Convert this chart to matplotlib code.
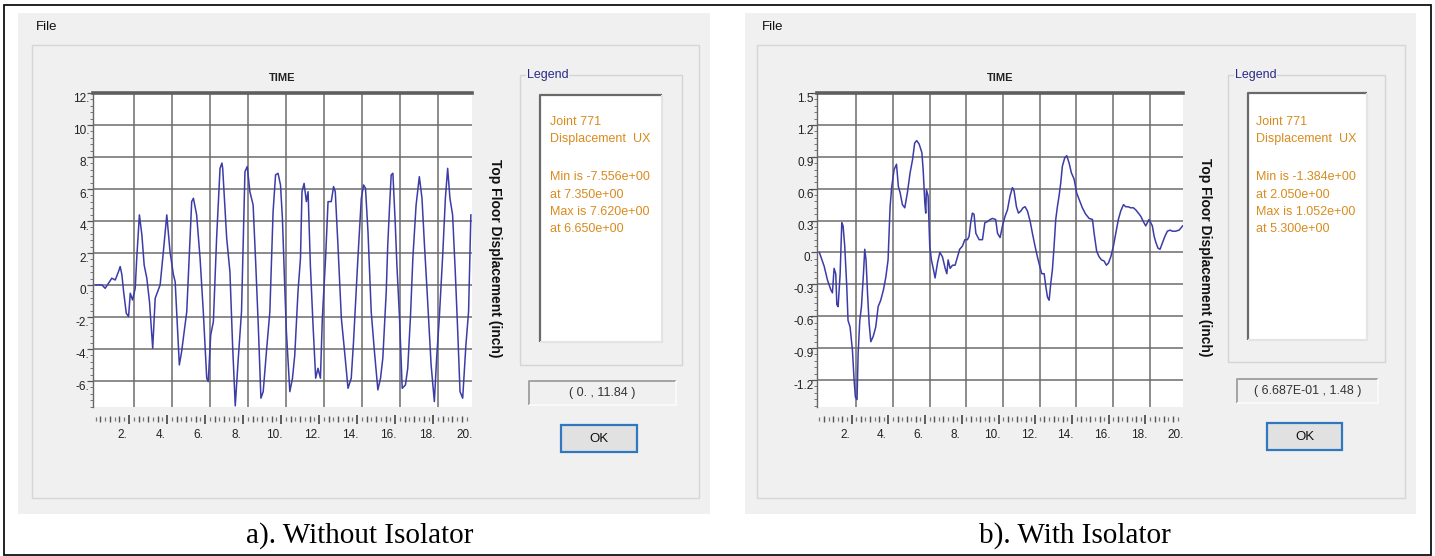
import matplotlib
matplotlib.use("Agg")
import matplotlib.pyplot as plt
from matplotlib.patches import Rectangle
from matplotlib.ticker import MultipleLocator
from matplotlib.transforms import blended_transform_factory, ScaledTranslation

# ---------------- data: top floor displacement time histories ----------------
t_without = [0.00, 0.34, 0.51, 0.86, 1.04, 1.21, 1.30, 1.39, 1.48, 1.62, 1.74, 1.83,
             1.95, 2.09, 2.17, 2.31, 2.44, 2.56, 2.70, 2.84, 3.01, 3.14, 3.40, 3.57,
             3.75, 3.92, 4.10, 4.19, 4.41, 4.53, 4.80, 5.06, 5.15, 5.32, 5.50, 5.67,
             5.85, 5.93, 6.06, 6.20, 6.37, 6.55, 6.65, 6.69, 6.90, 7.07, 7.21, 7.35,
             7.51, 7.68, 7.86, 7.98, 8.12, 8.29, 8.43, 8.56, 8.70, 8.82, 8.99, 9.17,
             9.34, 9.47, 9.60, 9.73, 9.83, 9.95, 10.04, 10.22, 10.36, 10.48, 10.65,
             10.78, 10.86, 10.97, 11.09, 11.18, 11.30, 11.44, 11.58, 11.70, 11.83,
             11.93, 12.10, 12.23, 12.40, 12.52, 12.61, 12.75, 12.93, 13.10, 13.28,
             13.45, 13.57, 13.80, 13.98, 14.10, 14.20, 14.33, 14.50, 14.67, 14.85,
             14.99, 15.11, 15.29, 15.37, 15.46, 15.55, 15.64, 15.76, 15.85, 15.99,
             16.13, 16.30, 16.42, 16.56, 16.69, 16.86, 17.03, 17.17, 17.30, 17.44,
             17.65, 17.82, 17.94, 18.08, 18.26, 18.40, 18.52, 18.64, 18.78, 18.92,
             19.05, 19.17, 19.31, 19.48, 19.62, 19.74]
u_without = [0.00, 0.00, -0.21, 0.42, 0.31, 0.83, 1.15, 0.63, -0.42, -1.77, -1.98, -0.52,
             -0.94, -0.21, 1.67, 4.38, 3.13, 1.25, 0.42, -1.04, -3.96, -0.83, 0.00, 2.08,
             4.38, 2.08, 0.63, 0.21, -5.00, -4.17, -1.67, 5.21, 5.42, 4.38, 1.67, -1.67,
             -5.83, -6.04, -3.13, -2.29, 2.92, 7.29, 7.62, 7.29, 2.92, 0.83, -3.75, -7.56,
             -4.58, -1.67, 7.08, 7.40, 5.83, 5.00, 1.25, -2.50, -7.08, -6.67, -4.17, -1.67,
             4.58, 6.88, 6.98, 6.25, 4.17, 0.00, -2.92, -6.67, -5.83, -4.38, -0.42,
             1.67, 5.83, 6.35, 5.21, 5.83, 1.25, -2.50, -5.83, -5.21, -5.83,
             -2.08, 1.67, 5.21, 5.21, 6.15, 5.83, 2.50, -2.08, -4.17, -6.46,
             -5.83, -3.54, 1.67, 5.42, 6.25, 6.04, 3.33, -1.67, -4.17, -6.56,
             -5.83, -4.58, -0.42, 2.50, 4.79, 6.88, 6.98, 3.96, 1.25, -2.08,
             -6.46, -6.25, -5.21, -2.08, 1.67, 5.00, 6.77, 5.42, 2.50, -0.42,
             -5.00, -7.29, -4.58, -2.08, 1.88, 5.42, 7.29, 5.42, 4.38, 0.83,
             -2.92, -6.67, -7.08, -3.75, -1.67, 4.38]

t_with = [0.00, 0.08, 0.26, 0.44, 0.62, 0.71, 0.80, 0.89, 0.95, 1.02, 1.13, 1.22, 1.29,
          1.38, 1.49, 1.56, 1.67, 1.80, 1.89, 1.96, 2.05, 2.11, 2.20, 2.29, 2.40, 2.47,
          2.54, 2.62, 2.71, 2.80, 2.93, 3.07, 3.20, 3.34, 3.49, 3.62, 3.74, 3.85, 3.94,
          4.07, 4.20, 4.30, 4.40, 4.52, 4.65, 4.79, 4.94, 5.07, 5.19, 5.30, 5.43, 5.58,
          5.65, 5.74, 5.79, 5.83, 5.92, 6.01, 6.10, 6.21, 6.30, 6.43, 6.56, 6.70, 6.85,
          6.94, 7.01, 7.12, 7.25, 7.39, 7.52, 7.64, 7.79, 7.92, 8.06, 8.15, 8.24, 8.33,
          8.42, 8.52, 8.61, 8.70, 8.88, 9.01, 9.15, 9.30, 9.42, 9.60, 9.70, 9.84, 9.97,
          10.11, 10.24, 10.38, 10.51, 10.60, 10.73, 10.84, 10.97, 11.09, 11.20, 11.33,
          11.48, 11.60, 11.73, 11.87, 12.00, 12.11, 12.24, 12.33, 12.42, 12.51, 12.60,
          12.69, 12.78, 12.87, 12.96, 13.05, 13.14, 13.23, 13.36, 13.47, 13.60, 13.72,
          13.87, 14.01, 14.14, 14.32, 14.50, 14.69, 14.87, 14.96, 15.10, 15.23, 15.36,
          15.50, 15.63, 15.74, 15.87, 16.01, 16.14, 16.28, 16.41, 16.56, 16.68, 16.81,
          16.95, 17.10, 17.23, 17.37, 17.50, 17.64, 17.77, 17.86, 17.95, 18.04, 18.13,
          18.23, 18.33, 18.44, 18.55, 18.68, 18.81, 18.95, 19.10, 19.22, 19.40, 19.59,
          19.78]
u_with = [0.00, -0.04, -0.13, -0.26, -0.35, -0.38, -0.15, -0.20, -0.49, -0.51, -0.20, 0.28,
          0.25, 0.06, -0.32, -0.64, -0.70, -0.92, -1.20, -1.36, -1.384, -0.95, -0.64,
          -0.51, -0.20, 0.03, -0.07, -0.38, -0.67, -0.84, -0.79, -0.70, -0.51, -0.45,
          -0.35, -0.23, -0.07, 0.43, 0.62, 0.78, 0.83, 0.62, 0.56, 0.45, 0.42, 0.56, 0.75,
          0.87, 1.03, 1.052, 1.02, 0.94, 0.78, 0.47, 0.37, 0.59, 0.53, 0.06, -0.07, -0.16,
          -0.24, -0.10, 0.00, -0.04, -0.15, -0.20, -0.07, -0.15, -0.12, -0.12, -0.04, 0.03,
          0.06, 0.12, 0.12, 0.15, 0.28, 0.37, 0.36, 0.18, 0.15, 0.12, 0.12, 0.28, 0.29,
          0.31, 0.32, 0.31, 0.18, 0.14, 0.25, 0.34, 0.40, 0.53, 0.61, 0.58, 0.43, 0.37,
          0.39, 0.42, 0.43, 0.39, 0.29, 0.18, 0.07, -0.04, -0.13, -0.20, -0.20, -0.32,
          -0.42, -0.45, -0.29, -0.16, 0.06, 0.31, 0.43, 0.53, 0.65, 0.81, 0.89, 0.91, 0.84,
          0.75, 0.69, 0.56, 0.50, 0.42, 0.36, 0.32, 0.31, 0.18, 0.01, -0.04, -0.07, -0.08,
          -0.12, -0.10, -0.04, 0.06, 0.18, 0.31, 0.39, 0.45, 0.43, 0.43, 0.42, 0.42, 0.40,
          0.37, 0.34, 0.29, 0.25, 0.28, 0.31, 0.28, 0.25, 0.15, 0.09, 0.04, 0.03, 0.09,
          0.15, 0.20, 0.21, 0.20, 0.20, 0.21, 0.25]

yticks_without = [-6, -4, -2, 0, 2, 4, 6, 8, 10, 12]
ylabels_without = ["-6.", "-4.", "-2.", "0.", "2.", "4.", "6.", "8.", "10.", "12."]
yticks_with = [-1.2, -0.9, -0.6, -0.3, 0.0, 0.3, 0.6, 0.9, 1.2, 1.5]
ylabels_with = ["-1.2", "-0.9", "-0.6", "-0.3", "0.", "0.3", "0.6", "0.9", "1.2", "1.5"]
time_ticks = [2, 4, 6, 8, 10, 12, 14, 16, 18, 20]
time_labels = ["2.", "4.", "6.", "8.", "10.", "12.", "14.", "16.", "18.", "20."]

legend_without = ["Joint 771", "Displacement  UX", "", "Min is -7.556e+00",
                  "at 7.350e+00", "Max is 7.620e+00", "at 6.650e+00"]
legend_with = ["Joint 771", "Displacement  UX", "", "Min is -1.384e+00",
               "at 2.050e+00", "Max is 1.052e+00", "at 5.300e+00"]
readout_without = "( 0. , 11.84 )"
readout_with = "( 6.687E-01 , 1.48 )"
caption_without = "a). Without Isolator"
caption_with = "b). With Isolator"

# ---------------- styling ----------------
W, H = 1435, 556
UI = "Liberation Sans"
SERIF = "Liberation Serif"
WIN = "#f0f0f0"
CURVE = "#3c3ca8"
GRID = "#6c6c6c"
ORANGE = "#d98b1e"

fig = plt.figure(figsize=(W / 100, H / 100), dpi=100, facecolor="white")
bg = fig.add_axes([0, 0, 1, 1], zorder=0)
bg.set_xlim(0, W)
bg.set_ylim(H, 0)
bg.axis("off")


def rect(x0, y0, x1, y1, fc="none", ec="none", lw=1.0, z=1):
    bg.add_patch(Rectangle((x0, y0), x1 - x0, y1 - y0, facecolor=fc,
                           edgecolor=ec, linewidth=lw, zorder=z))


def sunken(x0, y0, x1, y1, fc, dark, light, lw):
    rect(x0, y0, x1, y1, fc=fc, z=2)
    bg.plot([x0, x0, x1], [y1, y0, y0], color=dark, lw=lw, zorder=3,
            solid_capstyle="butt")
    bg.plot([x0, x1, x1], [y1, y1, y0], color=light, lw=lw, zorder=3,
            solid_capstyle="butt")


def panel(L, t, u, yticks, ylabels, ylim, yminor, legend_lines, readout, caption):
    # window frame
    rect(*L["win"], fc=WIN, z=1)
    rect(*L["group"], ec="#d6d6d6", lw=1.0, z=1.5)
    bg.text(L["file"][0], L["file"][1], "File", family=UI, fontsize=9.5,
            ha="left", va="center", color="#111111")
    # plot
    x0, y0, x1, y1 = L["plot"]
    ax = fig.add_axes([x0 / W, 1 - y1 / H, (x1 - x0) / W, (y1 - y0) / H], zorder=2)
    ax.set_facecolor("white")
    ax.plot(t, u, color=CURVE, lw=1.1, zorder=3, solid_joinstyle="round")
    ax.set_xlim(-0.13, 19.8)
    ax.set_ylim(*ylim)
    ax.set_yticks(yticks)
    ax.set_xticks(time_ticks[:-1])
    ax.yaxis.set_minor_locator(MultipleLocator(yminor))
    ax.grid(True, which="major", color=GRID, lw=1.1)
    ax.tick_params(axis="x", which="both", length=0, labelbottom=False)
    ax.tick_params(axis="y", which="major", length=4, width=0.9, color="#555555",
                   labelleft=False)
    ax.tick_params(axis="y", which="minor", length=2.5, width=0.7, color="#777777")
    for s in ("right", "bottom"):
        ax.spines[s].set_visible(False)
    ax.spines["left"].set_color("#666666")
    ax.spines["left"].set_linewidth(1.0)
    ax.spines["top"].set_color("#5e5e5e")
    ax.spines["top"].set_linewidth(2.6)

    # y tick labels, set slightly below their grid lines
    ylab_tr = blended_transform_factory(ax.transAxes, ax.transData) + \
        ScaledTranslation(-0.035, -0.06, fig.dpi_scale_trans)
    for v, s in zip(yticks, ylabels):
        ax.text(0, v, s, transform=ylab_tr, ha="right", va="center",
                family=UI, fontsize=8.5, color="#222222")

    # time ruler below the plot
    ruler = blended_transform_factory(ax.transData, ax.transAxes) + \
        ScaledTranslation(-0.045, 0, fig.dpi_scale_trans)
    ph = y1 - y0
    k = 1
    while k * 0.25 < 19.8:
        tv = k * 0.25
        if k % 8 == 0:
            ya, yb, c, w = (407 - 415) / ph, (407 - 424) / ph, "#333333", 1.1
        elif k % 2 == 0:
            ya, yb, c, w = (407 - 416) / ph, (407 - 422) / ph, "#555555", 1.0
        else:
            ya, yb, c, w = (407 - 417) / ph, (407 - 421) / ph, "#777777", 0.9
        ax.plot([tv, tv], [ya, yb], transform=ruler, color=c, lw=w,
                clip_on=False, solid_capstyle="butt")
        k += 1
    xlab_tr = blended_transform_factory(ax.transData, ax.transAxes) + \
        ScaledTranslation(-0.11, 0, fig.dpi_scale_trans)
    for v, s in zip(time_ticks, time_labels):
        ax.text(v, (407 - 435) / ph, s, transform=xlab_tr, ha="center",
                va="center", family=UI, fontsize=8.5, color="#222222", clip_on=False)

    bg.text((x0 + x1) / 2, 78, "TIME", family=UI, fontsize=8, weight="bold",
            ha="center", va="center", color="#222222")
    bg.text(L["ylab"][0], L["ylab"][1], "Top Floor Displacement (inch)", family=UI,
            fontsize=10, weight="bold", rotation=-90, ha="center", va="center",
            color="#111111")

    # legend group
    gx0, gy0, gx1, gy1 = L["lgroup"]
    rect(gx0, gy0, gx1, gy1, ec="#d4d4d4", lw=1.0, z=1.6)
    bg.text(gx0 + 7, gy0, "Legend", family=UI, fontsize=9, color="#2a2a86",
            ha="left", va="center", zorder=4,
            bbox=dict(facecolor=WIN, edgecolor="none", pad=0.5))
    sunken(*L["lbox"], fc="white", dark="#6a6a6a", light="#e4e4e4", lw=1.6)
    ly = 122
    for line in legend_lines:
        if line:
            bg.text(L["ltext"], ly, line, family=UI, fontsize=9, color=ORANGE,
                    ha="left", va="center", zorder=4)
        ly += 17.4 if line else 20.5

    # readout and OK button
    sunken(*L["readout"], fc="#f0f0f0", dark="#a3a3a3", light="#fafafa", lw=1.4)
    rx0, ry0, rx1, ry1 = L["readout"]
    bg.text((rx0 + rx1) / 2, (ry0 + ry1) / 2, readout, family=UI, fontsize=9,
            color="#333333", ha="center", va="center", zorder=4)
    ox0, oy0, ox1, oy1 = L["ok"]
    rect(ox0, oy0, ox1, oy1, fc="#e1e1e1", ec="#2f78c0", lw=1.6, z=3)
    bg.text((ox0 + ox1) / 2, (oy0 + oy1) / 2, "OK", family=UI, fontsize=9.5,
            color="#111111", ha="center", va="center", zorder=4)

    bg.text(L["caption"][0], L["caption"][1], caption, family=SERIF, fontsize=21,
            color="black", ha="center", va="center")


layout_without = dict(win=(18, 13, 710, 514), group=(32, 45, 699, 498), file=(36, 27),
                      plot=(93, 93, 472, 407), ylab=(495, 258),
                      lgroup=(520, 75, 682, 365), lbox=(540, 95, 662, 342), ltext=550,
                      readout=(529, 381, 676, 405), ok=(561, 425, 637, 452),
                      caption=(360, 536))
layout_with = dict(win=(745, 13, 1416, 514), group=(757, 45, 1405, 498), file=(762, 27),
                   plot=(817, 93, 1183, 407), ylab=(1205, 257),
                   lgroup=(1228, 75, 1385, 362), lbox=(1248, 93, 1367, 340), ltext=1256,
                   readout=(1237, 379, 1378, 403), ok=(1267, 423, 1342, 450),
                   caption=(1075, 536))

panel(layout_without, t_without, u_without, yticks_without, ylabels_without,
      (-7.63, 12.0), 0.4, legend_without, readout_without, caption_without)
panel(layout_with, t_with, u_with, yticks_with, ylabels_with,
      (-1.454, 1.5), 0.06, legend_with, readout_with, caption_with)

# outer border
rect(3.5, 4.5, 1430.5, 554.5, ec="#111111", lw=1.3, z=5)

fig.savefig("out.png", dpi=100, facecolor="white")
